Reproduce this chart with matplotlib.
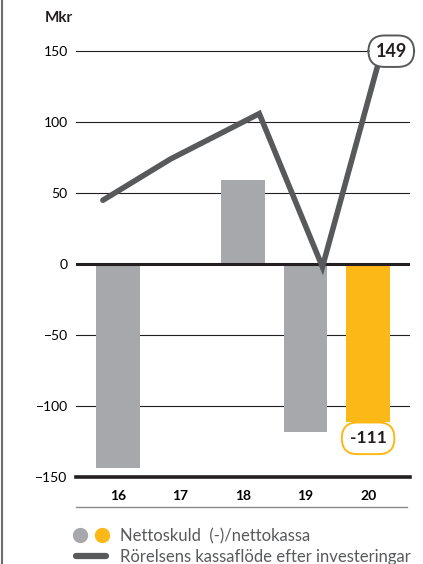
import matplotlib.pyplot as plt
import numpy as np
from matplotlib.lines import Line2D
from matplotlib.legend_handler import HandlerTuple

plt.rcParams.update({
    "font.family": ["Lato", "DejaVu Sans"],
    "font.size": 9.5,
})

years = ["16", "17", "18", "19", "20"]
nettoskuld = [-144, 1, 59, -118, -111]
kassaflode = [45, 74, 106, -2, 149]
# the cash-flow line is drawn slightly off the bar centres
line_offset = [-0.24, -0.16, 0.26, 0.27, 0.21]
yticks = [-150, -100, -50, 0, 50, 100, 150]

grey = "#A7A8AB"
yellow = "#FBB817"
dark = "#58595B"

x = np.arange(len(years))
bar_colors = [grey] * (len(years) - 1) + [yellow]

fig = plt.figure(figsize=(4.23, 5.64), dpi=100)
ax = fig.add_axes([76 / 423, 1 - 477 / 564, 334 / 423, 440 / 564])

ax.bar(x, nettoskuld, width=0.7, color=bar_colors, zorder=2)
ax.plot(x + np.array(line_offset), kassaflode, color=dark, lw=4,
        solid_capstyle="round", solid_joinstyle="miter", zorder=4)

ax.set_xlim(-0.67, 4.67)
ax.set_ylim(-150, 160)
ax.set_yticks(yticks)
ax.set_yticklabels([str(v).replace("-", "\u2212") for v in yticks], fontsize=10)
ax.set_xticks(x)
ax.set_xticklabels(years, fontweight="bold", fontsize=10)
ax.tick_params(axis="y", length=0, pad=6)
ax.tick_params(axis="x", length=0, pad=9)

for v in yticks:
    if v == 0:
        ax.axhline(v, color="#231F20", lw=2.2, zorder=3)
    elif v == -150:
        ax.axhline(v, color="#231F20", lw=2.6, zorder=3, clip_on=False)
    else:
        ax.axhline(v, color="#231F20", lw=0.8, zorder=1)

for s in ax.spines.values():
    s.set_visible(False)

# value labels
ax.annotate(str(kassaflode[-1]), xy=(x[-1] + 0.37, 150), ha="center", va="center",
            fontsize=13, fontweight="bold", color="#231F20", zorder=5,
            bbox=dict(boxstyle="round,pad=0.4,rounding_size=0.9", fc="white",
                      ec=dark, lw=1.4))
ax.annotate(str(nettoskuld[-1]), xy=(x[-1], nettoskuld[-1]), xytext=(0, -12),
            textcoords="offset points", ha="center", va="center",
            fontsize=12.5, fontweight="bold", color="#231F20", zorder=5,
            bbox=dict(boxstyle="round,pad=0.45,rounding_size=0.9", fc="white",
                      ec=yellow, lw=1.4))

fig.text(45 / 423, 1 - 18 / 564, "Mkr", fontsize=11, fontweight="bold",
         va="center", ha="left", color="#231F20")

# separator under the year labels and frame line at the left edge
fig.add_artist(Line2D([76 / 423, 407 / 423], [1 - 507 / 564] * 2,
                      color="#8A8A8A", lw=1))
fig.add_artist(Line2D([1.5 / 423] * 2, [0, 1], color="#6D6E71", lw=1.5))

dots = (Line2D([], [], marker="o", ls="none", ms=10, color=grey),
        Line2D([], [], marker="o", ls="none", ms=10, color=yellow))
line_h = Line2D([], [], color=dark, lw=4.5, solid_capstyle="round")
fig.legend([dots, line_h],
           ["Nettoskuld  (-)/nettokassa", "Rörelsens kassaflöde efter investeringar"],
           handler_map={tuple: HandlerTuple(ndivide=None, pad=0.8)},
           loc="upper left", bbox_to_anchor=(76 / 423, 1 - 528 / 564),
           frameon=False, fontsize=12, handlelength=1.8, handletextpad=0.85,
           labelspacing=0.3, borderaxespad=0, borderpad=0,
           labelcolor="#58595B")

fig.savefig("out.png", dpi=100)
